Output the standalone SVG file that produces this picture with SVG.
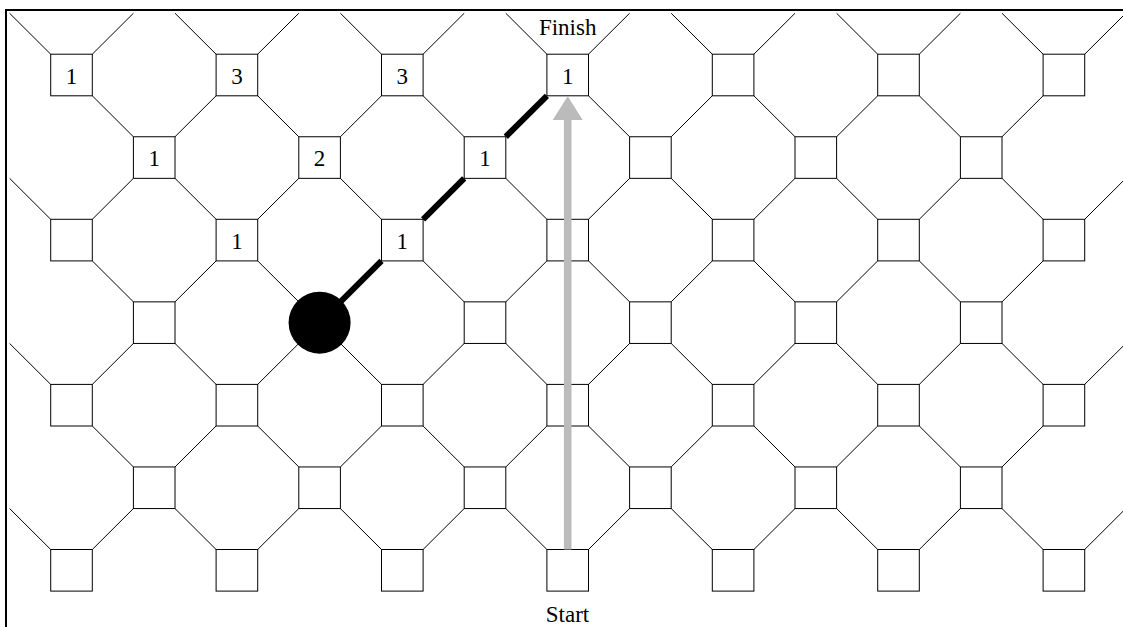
<svg xmlns="http://www.w3.org/2000/svg" width="1123" height="627" viewBox="0 0 1123 627">
<style>
.e{stroke:#000;stroke-width:1;fill:none}
.sq{fill:#fff;stroke:#000;stroke-width:1}
.t{font-family:"Liberation Serif","Times New Roman",serif;font-size:23px;fill:#000;text-anchor:middle}
.path{stroke:#000;stroke-width:6;stroke-linecap:butt;fill:none}
</style>
<rect x="0" y="0" width="1123" height="627" fill="#fff"/>
<rect x="6" y="10" width="1130" height="630" fill="none" stroke="#000" stroke-width="2"/>
<g id="connectors">
<g id="row0">
<line class="e" x1="50.7" y1="54.2" x2="9.6" y2="13.25"/><line class="e" x1="92.3" y1="54.2" x2="133.4" y2="13.25"/>
<line class="e" x1="216.1" y1="54.2" x2="175" y2="13.25"/><line class="e" x1="257.7" y1="54.2" x2="298.8" y2="13.25"/>
<line class="e" x1="381.5" y1="54.2" x2="340.4" y2="13.25"/><line class="e" x1="423.1" y1="54.2" x2="464.2" y2="13.25"/>
<line class="e" x1="546.9" y1="54.2" x2="505.8" y2="13.25"/><line class="e" x1="588.5" y1="54.2" x2="629.6" y2="13.25"/>
<line class="e" x1="712.3" y1="54.2" x2="671.2" y2="13.25"/><line class="e" x1="753.9" y1="54.2" x2="795" y2="13.25"/>
<line class="e" x1="877.7" y1="54.2" x2="836.6" y2="13.25"/><line class="e" x1="919.3" y1="54.2" x2="960.4" y2="13.25"/>
<line class="e" x1="1043.1" y1="54.2" x2="1002" y2="13.25"/><line class="e" x1="1084.7" y1="54.2" x2="1125.8" y2="13.25"/>
</g>
<g id="row1">
<line class="e" x1="133.4" y1="136.75" x2="92.3" y2="95.8"/><line class="e" x1="175" y1="136.75" x2="216.1" y2="95.8"/>
<line class="e" x1="298.8" y1="136.75" x2="257.7" y2="95.8"/><line class="e" x1="340.4" y1="136.75" x2="381.5" y2="95.8"/>
<line class="e" x1="464.2" y1="136.75" x2="423.1" y2="95.8"/><line class="e" x1="505.8" y1="136.75" x2="546.9" y2="95.8"/>
<line class="e" x1="629.6" y1="136.75" x2="588.5" y2="95.8"/><line class="e" x1="671.2" y1="136.75" x2="712.3" y2="95.8"/>
<line class="e" x1="795" y1="136.75" x2="753.9" y2="95.8"/><line class="e" x1="836.6" y1="136.75" x2="877.7" y2="95.8"/>
<line class="e" x1="960.4" y1="136.75" x2="919.3" y2="95.8"/><line class="e" x1="1002" y1="136.75" x2="1043.1" y2="95.8"/>
</g>
<g id="row2">
<line class="e" x1="50.7" y1="219.3" x2="9.6" y2="178.35"/><line class="e" x1="92.3" y1="219.3" x2="133.4" y2="178.35"/>
<line class="e" x1="216.1" y1="219.3" x2="175" y2="178.35"/><line class="e" x1="257.7" y1="219.3" x2="298.8" y2="178.35"/>
<line class="e" x1="381.5" y1="219.3" x2="340.4" y2="178.35"/><line class="e" x1="423.1" y1="219.3" x2="464.2" y2="178.35"/>
<line class="e" x1="546.9" y1="219.3" x2="505.8" y2="178.35"/><line class="e" x1="588.5" y1="219.3" x2="629.6" y2="178.35"/>
<line class="e" x1="712.3" y1="219.3" x2="671.2" y2="178.35"/><line class="e" x1="753.9" y1="219.3" x2="795" y2="178.35"/>
<line class="e" x1="877.7" y1="219.3" x2="836.6" y2="178.35"/><line class="e" x1="919.3" y1="219.3" x2="960.4" y2="178.35"/>
<line class="e" x1="1043.1" y1="219.3" x2="1002" y2="178.35"/><line class="e" x1="1084.7" y1="219.3" x2="1125.8" y2="178.35"/>
</g>
<g id="row3">
<line class="e" x1="133.4" y1="301.85" x2="92.3" y2="260.9"/><line class="e" x1="175" y1="301.85" x2="216.1" y2="260.9"/>
<line class="e" x1="298.8" y1="301.85" x2="257.7" y2="260.9"/><line class="e" x1="340.4" y1="301.85" x2="381.5" y2="260.9"/>
<line class="e" x1="464.2" y1="301.85" x2="423.1" y2="260.9"/><line class="e" x1="505.8" y1="301.85" x2="546.9" y2="260.9"/>
<line class="e" x1="629.6" y1="301.85" x2="588.5" y2="260.9"/><line class="e" x1="671.2" y1="301.85" x2="712.3" y2="260.9"/>
<line class="e" x1="795" y1="301.85" x2="753.9" y2="260.9"/><line class="e" x1="836.6" y1="301.85" x2="877.7" y2="260.9"/>
<line class="e" x1="960.4" y1="301.85" x2="919.3" y2="260.9"/><line class="e" x1="1002" y1="301.85" x2="1043.1" y2="260.9"/>
</g>
<g id="row4">
<line class="e" x1="50.7" y1="384.4" x2="9.6" y2="343.45"/><line class="e" x1="92.3" y1="384.4" x2="133.4" y2="343.45"/>
<line class="e" x1="216.1" y1="384.4" x2="175" y2="343.45"/><line class="e" x1="257.7" y1="384.4" x2="298.8" y2="343.45"/>
<line class="e" x1="381.5" y1="384.4" x2="340.4" y2="343.45"/><line class="e" x1="423.1" y1="384.4" x2="464.2" y2="343.45"/>
<line class="e" x1="546.9" y1="384.4" x2="505.8" y2="343.45"/><line class="e" x1="588.5" y1="384.4" x2="629.6" y2="343.45"/>
<line class="e" x1="712.3" y1="384.4" x2="671.2" y2="343.45"/><line class="e" x1="753.9" y1="384.4" x2="795" y2="343.45"/>
<line class="e" x1="877.7" y1="384.4" x2="836.6" y2="343.45"/><line class="e" x1="919.3" y1="384.4" x2="960.4" y2="343.45"/>
<line class="e" x1="1043.1" y1="384.4" x2="1002" y2="343.45"/><line class="e" x1="1084.7" y1="384.4" x2="1125.8" y2="343.45"/>
</g>
<g id="row5">
<line class="e" x1="133.4" y1="466.95" x2="92.3" y2="426"/><line class="e" x1="175" y1="466.95" x2="216.1" y2="426"/>
<line class="e" x1="298.8" y1="466.95" x2="257.7" y2="426"/><line class="e" x1="340.4" y1="466.95" x2="381.5" y2="426"/>
<line class="e" x1="464.2" y1="466.95" x2="423.1" y2="426"/><line class="e" x1="505.8" y1="466.95" x2="546.9" y2="426"/>
<line class="e" x1="629.6" y1="466.95" x2="588.5" y2="426"/><line class="e" x1="671.2" y1="466.95" x2="712.3" y2="426"/>
<line class="e" x1="795" y1="466.95" x2="753.9" y2="426"/><line class="e" x1="836.6" y1="466.95" x2="877.7" y2="426"/>
<line class="e" x1="960.4" y1="466.95" x2="919.3" y2="426"/><line class="e" x1="1002" y1="466.95" x2="1043.1" y2="426"/>
</g>
<g id="row6">
<line class="e" x1="50.7" y1="549.5" x2="9.6" y2="508.55"/><line class="e" x1="92.3" y1="549.5" x2="133.4" y2="508.55"/>
<line class="e" x1="216.1" y1="549.5" x2="175" y2="508.55"/><line class="e" x1="257.7" y1="549.5" x2="298.8" y2="508.55"/>
<line class="e" x1="381.5" y1="549.5" x2="340.4" y2="508.55"/><line class="e" x1="423.1" y1="549.5" x2="464.2" y2="508.55"/>
<line class="e" x1="546.9" y1="549.5" x2="505.8" y2="508.55"/><line class="e" x1="588.5" y1="549.5" x2="629.6" y2="508.55"/>
<line class="e" x1="712.3" y1="549.5" x2="671.2" y2="508.55"/><line class="e" x1="753.9" y1="549.5" x2="795" y2="508.55"/>
<line class="e" x1="877.7" y1="549.5" x2="836.6" y2="508.55"/><line class="e" x1="919.3" y1="549.5" x2="960.4" y2="508.55"/>
<line class="e" x1="1043.1" y1="549.5" x2="1002" y2="508.55"/><line class="e" x1="1084.7" y1="549.5" x2="1125.8" y2="508.55"/>
</g>
</g>
<g id="nodes">
<g id="n0-0"><rect class="sq" x="50.7" y="54.2" width="41.6" height="41.6"/><text class="t" x="71.5" y="83.5">1</text></g>
<g id="n0-2"><rect class="sq" x="216.1" y="54.2" width="41.6" height="41.6"/><text class="t" x="236.9" y="83.5">3</text></g>
<g id="n0-4"><rect class="sq" x="381.5" y="54.2" width="41.6" height="41.6"/><text class="t" x="402.3" y="83.5">3</text></g>
<g id="n0-6"><rect class="sq" x="546.9" y="54.2" width="41.6" height="41.6"/><text class="t" x="567.7" y="83.5">1</text></g>
<g id="n0-8"><rect class="sq" x="712.3" y="54.2" width="41.6" height="41.6"/></g>
<g id="n0-10"><rect class="sq" x="877.7" y="54.2" width="41.6" height="41.6"/></g>
<g id="n0-12"><rect class="sq" x="1043.1" y="54.2" width="41.6" height="41.6"/></g>
<g id="n1-1"><rect class="sq" x="133.4" y="136.75" width="41.6" height="41.6"/><text class="t" x="154.2" y="166">1</text></g>
<g id="n1-3"><rect class="sq" x="298.8" y="136.75" width="41.6" height="41.6"/><text class="t" x="319.6" y="166">2</text></g>
<g id="n1-5"><rect class="sq" x="464.2" y="136.75" width="41.6" height="41.6"/><text class="t" x="485" y="166">1</text></g>
<g id="n1-7"><rect class="sq" x="629.6" y="136.75" width="41.6" height="41.6"/></g>
<g id="n1-9"><rect class="sq" x="795" y="136.75" width="41.6" height="41.6"/></g>
<g id="n1-11"><rect class="sq" x="960.4" y="136.75" width="41.6" height="41.6"/></g>
<g id="n2-0"><rect class="sq" x="50.7" y="219.3" width="41.6" height="41.6"/></g>
<g id="n2-2"><rect class="sq" x="216.1" y="219.3" width="41.6" height="41.6"/><text class="t" x="236.9" y="248.6">1</text></g>
<g id="n2-4"><rect class="sq" x="381.5" y="219.3" width="41.6" height="41.6"/><text class="t" x="402.3" y="248.6">1</text></g>
<g id="n2-6"><rect class="sq" x="546.9" y="219.3" width="41.6" height="41.6"/></g>
<g id="n2-8"><rect class="sq" x="712.3" y="219.3" width="41.6" height="41.6"/></g>
<g id="n2-10"><rect class="sq" x="877.7" y="219.3" width="41.6" height="41.6"/></g>
<g id="n2-12"><rect class="sq" x="1043.1" y="219.3" width="41.6" height="41.6"/></g>
<g id="n3-1"><rect class="sq" x="133.4" y="301.85" width="41.6" height="41.6"/></g>
<g id="n3-5"><rect class="sq" x="464.2" y="301.85" width="41.6" height="41.6"/></g>
<g id="n3-7"><rect class="sq" x="629.6" y="301.85" width="41.6" height="41.6"/></g>
<g id="n3-9"><rect class="sq" x="795" y="301.85" width="41.6" height="41.6"/></g>
<g id="n3-11"><rect class="sq" x="960.4" y="301.85" width="41.6" height="41.6"/></g>
<g id="n4-0"><rect class="sq" x="50.7" y="384.4" width="41.6" height="41.6"/></g>
<g id="n4-2"><rect class="sq" x="216.1" y="384.4" width="41.6" height="41.6"/></g>
<g id="n4-4"><rect class="sq" x="381.5" y="384.4" width="41.6" height="41.6"/></g>
<g id="n4-6"><rect class="sq" x="546.9" y="384.4" width="41.6" height="41.6"/></g>
<g id="n4-8"><rect class="sq" x="712.3" y="384.4" width="41.6" height="41.6"/></g>
<g id="n4-10"><rect class="sq" x="877.7" y="384.4" width="41.6" height="41.6"/></g>
<g id="n4-12"><rect class="sq" x="1043.1" y="384.4" width="41.6" height="41.6"/></g>
<g id="n5-1"><rect class="sq" x="133.4" y="466.95" width="41.6" height="41.6"/></g>
<g id="n5-3"><rect class="sq" x="298.8" y="466.95" width="41.6" height="41.6"/></g>
<g id="n5-5"><rect class="sq" x="464.2" y="466.95" width="41.6" height="41.6"/></g>
<g id="n5-7"><rect class="sq" x="629.6" y="466.95" width="41.6" height="41.6"/></g>
<g id="n5-9"><rect class="sq" x="795" y="466.95" width="41.6" height="41.6"/></g>
<g id="n5-11"><rect class="sq" x="960.4" y="466.95" width="41.6" height="41.6"/></g>
<g id="n6-0"><rect class="sq" x="50.7" y="549.5" width="41.6" height="41.6"/></g>
<g id="n6-2"><rect class="sq" x="216.1" y="549.5" width="41.6" height="41.6"/></g>
<g id="n6-4"><rect class="sq" x="381.5" y="549.5" width="41.6" height="41.6"/></g>
<g id="n6-6"><rect class="sq" x="546.9" y="549.5" width="41.6" height="41.6"/></g>
<g id="n6-8"><rect class="sq" x="712.3" y="549.5" width="41.6" height="41.6"/></g>
<g id="n6-10"><rect class="sq" x="877.7" y="549.5" width="41.6" height="41.6"/></g>
<g id="n6-12"><rect class="sq" x="1043.1" y="549.5" width="41.6" height="41.6"/></g>
</g>
<g id="labels">
<text class="t" x="567.7" y="35">Finish</text>
<text class="t" x="567.5" y="621.5">Start</text>
</g>
<g id="route">
<line class="path" x1="319.6" y1="322.65" x2="381.5" y2="260.9"/>
<line class="path" x1="423.1" y1="219.3" x2="464.2" y2="178.35"/>
<line class="path" x1="505.8" y1="136.75" x2="546.9" y2="95.8"/>
</g>
<g id="arrow">
<rect x="563.9" y="118" width="7.6" height="431.5" fill="#bbbbbb"/>
<polygon points="567.7,96.3 582.7,120 552.7,120" fill="#bbbbbb"/>
</g>
<g id="ball"><circle cx="319.6" cy="322.65" r="31" fill="#000"/></g>
</svg>
